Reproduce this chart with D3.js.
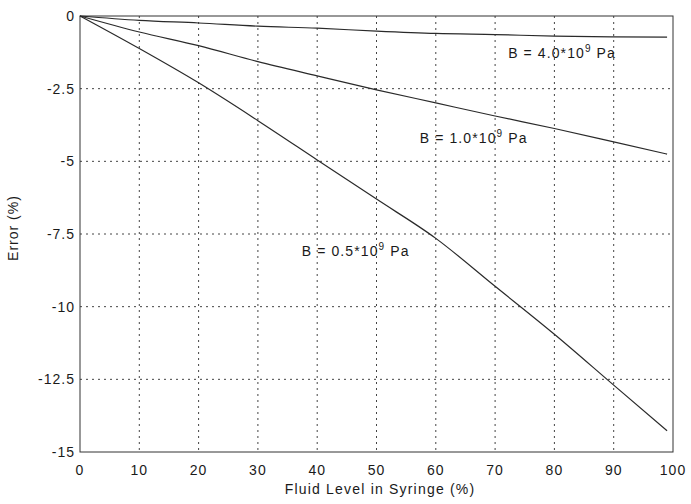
<!DOCTYPE html>
<html>
<head>
<meta charset="utf-8">
<script src="https://cdn.jsdelivr.net/npm/d3@7"></script>
<style>
  body { margin: 0; background: #fff; }
  text { font-family: "Liberation Sans", Arial, sans-serif; fill: #1a1a1a; }
</style>
</head>
<body>
<div id="chart"></div>
<script>
// Fluid level (%) where the curves were read
const fluidLevel = [0, 10, 20, 30, 40, 50, 60, 70, 80, 90, 99];
// Error (%) for each bulk modulus
const errB40 = [0, -0.15, -0.24, -0.35, -0.42, -0.52, -0.6, -0.64, -0.69, -0.72, -0.73];
const errB10 = [0, -0.55, -1.02, -1.57, -2.06, -2.54, -2.99, -3.44, -3.87, -4.33, -4.75];
const errB05 = [0, -1.12, -2.3, -3.6, -4.95, -6.3, -7.65, -9.3, -10.95, -12.7, -14.27];

const xTicks = [0, 10, 20, 30, 40, 50, 60, 70, 80, 90, 100];
const yTicks = [0, -2.5, -5, -7.5, -10, -12.5, -15];

// annotation text and anchor point in data units
const labels = [
    { mant: '4.0', x: 72.2, y: -1.44 },
    { mant: '1.0', x: 57.3, y: -4.37 },
    { mant: '0.5', x: 37.4, y: -8.26 }
];

const width = 691, height = 504;
const svg = d3.select('#chart').append('svg')
    .attr('width', width)
    .attr('height', height);

const x = d3.scaleLinear().domain([0, 100]).range([80, 673]);
const y = d3.scaleLinear().domain([0, -15]).range([16, 452]);

// grid
svg.append('g').selectAll('line')
    .data(xTicks.slice(1, -1))
    .join('line')
    .attr('x1', d => x(d)).attr('x2', d => x(d))
    .attr('y1', y(0)).attr('y2', y(-15))
    .attr('stroke', '#444')
    .attr('stroke-width', 1)
    .attr('stroke-dasharray', '2,4');

svg.append('g').selectAll('line')
    .data(yTicks.slice(1, -1))
    .join('line')
    .attr('x1', x(0)).attr('x2', x(100))
    .attr('y1', d => y(d)).attr('y2', d => y(d))
    .attr('stroke', '#444')
    .attr('stroke-width', 1)
    .attr('stroke-dasharray', '2,4');

// frame
svg.append('rect')
    .attr('x', x(0)).attr('y', y(0))
    .attr('width', x(100) - x(0))
    .attr('height', y(-15) - y(0))
    .attr('fill', 'none')
    .attr('stroke', '#333')
    .attr('stroke-width', 1);

// tick labels
svg.append('g').selectAll('text')
    .data(xTicks)
    .join('text')
    .attr('x', d => x(d))
    .attr('y', 475)
    .attr('text-anchor', 'middle')
    .attr('font-size', '14px')
    .attr('letter-spacing', '1px')
    .text(d => d);

svg.append('g').selectAll('text')
    .data(yTicks)
    .join('text')
    .attr('x', 75)
    .attr('y', d => y(d))
    .attr('dy', '0.35em')
    .attr('text-anchor', 'end')
    .attr('font-size', '14px')
    .attr('letter-spacing', '1px')
    .text(d => d);

// axis titles
svg.append('text')
    .attr('x', 380)
    .attr('y', 494)
    .attr('text-anchor', 'middle')
    .attr('font-size', '14px')
    .attr('letter-spacing', '1.2px')
    .text('Fluid Level in Syringe (%)');

svg.append('text')
    .attr('transform', 'translate(18,228) rotate(-90)')
    .attr('text-anchor', 'middle')
    .attr('font-size', '14px')
    .attr('letter-spacing', '1px')
    .text('Error (%)');

// curves
const line = d3.line()
    .x((d, i) => x(fluidLevel[i]))
    .y(d => y(d))
    .curve(d3.curveMonotoneX);

[errB40, errB10, errB05].forEach(s => {
    svg.append('path')
        .datum(s)
        .attr('d', line)
        .attr('fill', 'none')
        .attr('stroke', '#2a2a2a')
        .attr('stroke-width', 1.2);
});

// annotations
labels.forEach(l => {
    const t = svg.append('text')
        .attr('x', x(l.x))
        .attr('y', y(l.y))
        .attr('font-size', '14px')
        .attr('letter-spacing', '1.1px');
    t.append('tspan').text('B = ' + l.mant + '*10');
    t.append('tspan').attr('dy', -6).attr('font-size', '10px').text('9');
    t.append('tspan').attr('dy', 6).text(' Pa');
});
</script>
</body>
</html>
